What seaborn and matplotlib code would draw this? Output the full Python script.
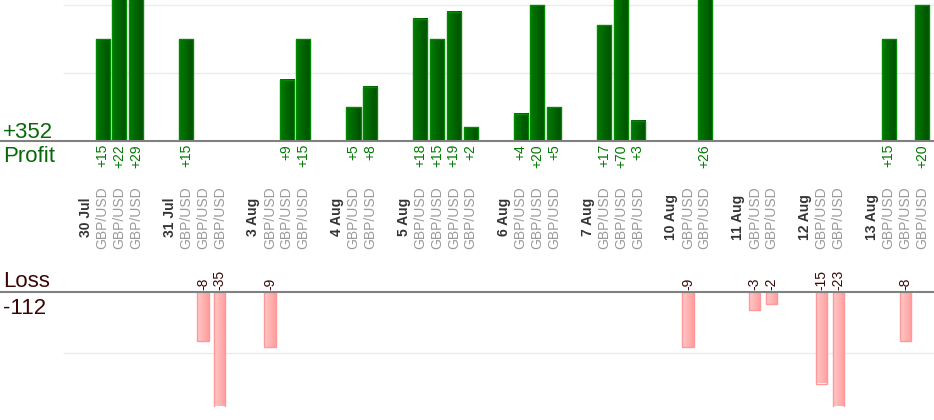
import numpy as np
import matplotlib.pyplot as plt
import matplotlib.transforms as mtransforms
from matplotlib.colors import LinearSegmentedColormap
import pandas as pd
import seaborn as sns

# Trading days and the trades made on each (pips won / lost)
days = ["30 Jul", "31 Jul", "3 Aug", "4 Aug", "5 Aug", "6 Aug",
        "7 Aug", "10 Aug", "11 Aug", "12 Aug", "13 Aug"]
trade_day = [0, 0, 0, 1, 1, 1, 2, 2, 2, 3, 3, 4, 4, 4, 4,
             5, 5, 5, 6, 6, 6, 7, 7, 8, 8, 9, 9, 10, 10, 10]
trade_pair = ["GBP/USD"] * len(trade_day)
trade_pips = [15, 22, 29, 15, -8, -35, -9, 9, 15, 5, 8, 18, 15, 19, 2,
              4, 20, 5, 17, 70, 3, -9, 26, -3, -2, -15, -23, 15, -8, 20]

# Lay out slots: one slot for the date label, one per trade, then a gap
day_slot = []
trade_slot = []
slot = 0
for d in range(len(days)):
    day_slot.append(slot)
    slot += 1
    n = trade_day.count(d)
    trade_slot.extend(range(slot, slot + n))
    slot += n + 1

df = pd.DataFrame({"slot": trade_slot, "pair": trade_pair, "pips": trade_pips})
profit = df[df["pips"] > 0]
loss = df[df["pips"] < 0]

sns.set_theme(style="white")
plt.rcParams["font.family"] = ["Liberation Sans", "DejaVu Sans"]

W, H = 934, 420
fig = plt.figure(figsize=(W / 100, H / 100), dpi=100)
ax_top = fig.add_axes([0, 1 - 141 / H, 1, 141 / H])
ax_bot = fig.add_axes([0, 1 - 406.5 / H, 1, 114.5 / H])

step = 16.72
x0 = 86
xlim = (-x0 / step, (W - x0) / step)
grid_start = (63 - x0) / step
top_lim = (0, 141 / 6.8)
bot_lim = (-114.5 / 6.1, 0)

green = LinearSegmentedColormap.from_list("g", ["#007c00", "#004e00"])
pink = LinearSegmentedColormap.from_list("p", ["#ffcaca", "#ff9c9c"])


def gradient_bars(ax, cmap, edge, ylim):
    # paint a left-to-right gradient inside every bar, kept inside the axes
    grad = np.linspace(0, 1, 64).reshape(1, -1)
    for p in list(ax.patches):
        x, w = p.get_x(), p.get_width()
        y0 = max(min(p.get_y(), p.get_y() + p.get_height()), ylim[0])
        y1 = min(max(p.get_y(), p.get_y() + p.get_height()), ylim[1])
        p.set_facecolor("none")
        p.set_edgecolor(edge)
        p.set_linewidth(1)
        p.set_zorder(3)
        ax.imshow(grad, extent=[x, x + w, y0, y1], aspect="auto",
                  cmap=cmap, zorder=2, interpolation="bilinear")


sns.barplot(data=profit, x="slot", y="pips", native_scale=True, width=0.84,
            color="#006600", ax=ax_top)
gradient_bars(ax_top, green, "#008a00", top_lim)

sns.barplot(data=loss, x="slot", y="pips", native_scale=True, width=0.68,
            color="#ffaaaa", ax=ax_bot)
gradient_bars(ax_bot, pink, "#ff9999", bot_lim)

for ax in (ax_top, ax_bot):
    ax.set_xlim(*xlim)
    ax.axis("off")

ax_top.set_ylim(*top_lim)
ax_bot.set_ylim(*bot_lim)

ax_top.hlines([10, 20], grid_start, xlim[1], color="#ececec", lw=1, zorder=1)
ax_bot.hlines([-10], grid_start, xlim[1], color="#ececec", lw=1, zorder=1)
ax_top.axhline(0, color="#808080", lw=1.5, clip_on=False, zorder=4)
ax_bot.axhline(0, color="#808080", lw=1.5, clip_on=False, zorder=4)

# totals on the left
total_profit = profit["pips"].sum()
total_loss = loss["pips"].sum()
fig.text(3 / W, 1 - 138 / H, f"+{total_profit}", fontsize=16, color="#076807", va="baseline")
fig.text(3 / W, 1 - 162 / H, "Profit", fontsize=16, color="#076807", va="baseline")
fig.text(3 / W, 1 - 287 / H, "Loss", fontsize=16, color="#3a0505", va="baseline")
fig.text(3 / W, 1 - 314 / H, f"{total_loss}", fontsize=16, color="#3a0505", va="baseline")

# value labels, pair labels and day labels
trans = mtransforms.blended_transform_factory(ax_top.transData, fig.transFigure)
for s, v in zip(profit["slot"], profit["pips"]):
    ax_top.text(s, 1 - 144 / H, f"+{v}", transform=trans, rotation=90,
                ha="center", va="top", fontsize=10, color="#007a00", clip_on=False)
for s, v in zip(loss["slot"], loss["pips"]):
    ax_top.text(s, 1 - 290 / H, f"{v}", transform=trans, rotation=90,
                ha="center", va="bottom", fontsize=10, color="#3a0505", clip_on=False)
for s, pair in zip(df["slot"], df["pair"]):
    ax_top.text(s, 1 - 218 / H, pair, transform=trans, rotation=90,
                ha="center", va="center", fontsize=10, color="#9a9a9a", clip_on=False)
for s, d in zip(day_slot, days):
    ax_top.text(s, 1 - 217 / H, d, transform=trans, rotation=90,
                ha="center", va="center", fontsize=10, fontweight="bold",
                color="#333333", clip_on=False)

fig.savefig("out.png", dpi=100)
